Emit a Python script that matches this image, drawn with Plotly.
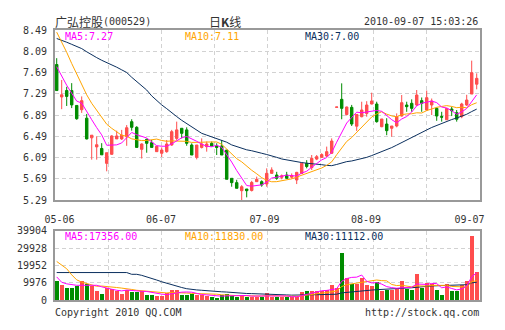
import plotly.graph_objects as go
import pandas as pd

# ---------------- data ----------------
opens = [7.84, 7.23, 7.35, 7.35, 7.07, 6.99, 6.83, 6.46, 6.29, 6.26,
         5.98, 6.15, 6.44, 6.44, 6.48, 6.764, 6.658, 6.244, 6.432, 6.37,
         6.20, 6.17, 6.20, 6.325, 6.45, 6.64, 6.61, 6.325, 6.093, 6.28,
         6.294, 6.357, 6.307, 6.307, 6.23, 5.698, 5.617, 5.465, 5.497, 5.47,
         5.635, 5.635, 5.591, 5.792, 5.76, 5.717, 5.76, 5.72, 5.667, 5.79,
         5.98, 5.90, 6.06, 6.093, 6.118, 6.17, 7.035, 7.185, 6.90, 7.034,
         6.68, 6.858, 6.92, 7.097, 7.097, 6.67, 6.72, 6.64, 6.683, 6.871,
         7.078, 7.11, 7.078, 7.16, 6.984, 7.078, 7.015, 6.86, 6.80, 7.003,
         6.934, 6.859, 7.078, 7.285, 7.47]
closes = [7.35, 7.27, 7.24, 7.08, 6.82, 7.16, 6.44, 6.51, 6.33, 6.14,
          6.18, 6.495, 6.495, 6.51, 6.65, 6.658, 6.28, 6.344, 6.357, 6.28,
          6.30, 6.23, 6.344, 6.576, 6.61, 6.545, 6.357, 6.137, 6.325, 6.344,
          6.344, 6.307, 6.28, 6.137, 5.68, 5.617, 5.51, 5.54, 5.465, 5.62,
          5.68, 5.573, 5.792, 5.855, 5.698, 5.745, 5.698, 5.75, 5.81, 5.98,
          5.92, 6.074, 6.105, 6.145, 6.20, 6.40, 7.04, 7.015, 7.04, 6.72,
          6.90, 6.984, 7.078, 7.153, 6.765, 6.815, 6.595, 6.683, 6.859, 7.122,
          7.047, 7.015, 7.266, 7.11, 7.216, 7.153, 6.871, 6.85, 7.015, 6.97,
          6.81, 7.097, 7.172, 7.687, 7.58]
highs = [7.96, 7.55, 7.42, 7.49, 7.07, 7.24, 6.91, 6.51, 6.49, 6.36,
         6.18, 6.51, 6.595, 6.61, 6.70, 6.81, 6.68, 6.357, 6.445, 6.42,
         6.30, 6.28, 6.42, 6.61, 6.765, 6.64, 6.658, 6.357, 6.325, 6.45,
         6.39, 6.39, 6.357, 6.42, 6.23, 5.698, 5.67, 5.57, 5.497, 5.65,
         5.73, 5.66, 5.886, 5.905, 5.82, 5.77, 5.82, 5.79, 5.82, 5.99,
         6.04, 6.137, 6.137, 6.17, 6.295, 6.45, 7.04, 7.486, 7.05, 7.08,
         6.90, 7.14, 7.15, 7.31, 7.14, 6.815, 6.83, 6.683, 6.92, 7.266,
         7.14, 7.185, 7.36, 7.22, 7.35, 7.20, 7.03, 6.95, 7.015, 7.047,
         6.984, 7.12, 7.27, 7.913, 7.674]
lows = [7.35, 7.00, 7.06, 7.02, 6.80, 6.93, 6.43, 6.05, 6.05, 6.14,
        5.83, 6.14, 6.44, 6.42, 6.31, 6.595, 6.28, 6.07, 6.18, 6.28,
        6.20, 6.10, 6.18, 6.31, 6.42, 6.45, 6.31, 6.137, 6.055, 6.26,
        6.20, 6.307, 6.137, 6.137, 5.68, 5.54, 5.51, 5.29, 5.34, 5.45,
        5.635, 5.54, 5.54, 5.78, 5.67, 5.68, 5.69, 5.69, 5.59, 5.78,
        5.886, 5.855, 6.04, 6.08, 6.10, 6.156, 7.035, 6.81, 6.88, 6.683,
        6.59, 6.846, 6.858, 7.09, 6.745, 6.66, 6.51, 6.482, 6.658, 6.86,
        6.95, 6.95, 7.06, 6.95, 6.97, 6.89, 6.78, 6.765, 6.80, 6.87,
        6.765, 6.83, 7.06, 7.285, 7.373]
volumes = [10900, 9000, 7200, 7200, 8000, 10900, 9500, 8300, 5600, 3700,
           6800, 6600, 5400, 3700, 6100, 5000, 4700, 5600, 3200, 3200,
           2250, 2600, 4300, 6200, 6200, 3200, 3200, 3700, 2800, 2800,
           2200, 1850, 1300, 2800, 3700, 2400, 1850, 3200, 1850, 1850,
           1850, 1850, 4200, 1860, 1900, 1860, 1900, 1860, 1860, 5000,
           5500, 5500, 5500, 5200, 5900, 8800, 7000, 27100, 12900, 9300,
           9500, 13100, 9000, 8200, 10300, 5200, 5800, 6200, 6400, 11400,
           6600, 6200, 15400, 6800, 9800, 9500, 5800, 3200, 9500, 5200,
           5400, 8600, 11000, 36900, 16100]

# moving-average values before a full window is available
ma5_lead = [7.80, 7.62, 7.45, 7.30]
ma10_lead = [8.45, 8.27, 8.07, 7.86, 7.67, 7.45, 7.27, 7.11, 6.98]
ma30_lead = [8.33, 8.30, 8.26, 8.22, 8.18, 8.14, 8.08, 8.02, 7.97, 7.92,
             7.88, 7.84, 7.79, 7.74, 7.69, 7.60, 7.52, 7.44, 7.36, 7.25,
             7.16, 7.08, 7.01, 6.93, 6.86, 6.79, 6.73, 6.66, 6.61]
vol_ma5_lead = [13300, 10200, 9300, 8800]
vol_ma10_lead = [22200, 20000, 18000, 14500, 11600, 10300, 9400, 8400, 7900]
vol_ma30_lead = [15800, 15800, 15800, 15800, 15800, 15900, 16000, 16000, 16000, 16000,
                 16000, 16000, 16000, 16000, 15800, 14800, 14800, 14200, 13400, 12500,
                 11500, 10500, 9600, 8800, 8200, 7200, 6500, 6000, 5800]

price_ticks = [5.29, 5.69, 6.09, 6.49, 6.89, 7.29, 7.69, 8.09, 8.49]
vol_ticks = [0, 9976, 19952, 29928, 39904]
date_labels = ["05-06", "06-07", "07-09", "08-09", "09-07"]

title_name = "广弘控股"
title_code = "(000529)"
title_mid = "日<b>K</b>线"
title_time = "2010-09-07 15:03:26"
price_legend = ["MA5:7.27", "MA10:7.11", "MA30:7.00"]
vol_legend = ["MA5:17356.00", "MA10:11830.00", "MA30:11112.00"]
footer_left = "Copyright 2010 QQ.COM"
footer_right = "http://stock.qq.com"

# ---------------- derived ----------------
n = len(closes)
idx = list(range(n))


def ma(values, w, lead):
    s = pd.Series(values, dtype=float).rolling(w).mean().tolist()
    return list(lead) + s[w - 1:]


ma5 = ma(closes, 5, ma5_lead)
ma10 = ma(closes, 10, ma10_lead)
ma30 = ma(closes, 30, ma30_lead)
vma5 = ma(volumes, 5, vol_ma5_lead)
vma10 = ma(volumes, 10, vol_ma10_lead)
vma30 = ma(volumes, 30, vol_ma30_lead)

RED = "#FF4D4D"
GREEN = "#008C00"
C5 = "#FF00FF"
C10 = "#FFA500"
C30 = "#0A2F5E"
GRID = "#D2D2D2"
FRAME = "#999999"
TXT = "#333333"
MONO = "DejaVu Sans Mono"
CJK = "Noto Sans CJK SC"

bar_colors = [RED if c >= o else GREEN for o, c in zip(opens, closes)]

W, H = 505, 330
L, R, T, B = 55, 25, 30, 30
PW, PH = W - L - R, H - T - B


def px(x):
    return (x - L) / PW


def py(y):
    return (H - B - y) / PH


x_lo, x_hi = -0.34, 84.66
span = x_hi - x_lo
grid_pos = [x_lo + span * k / 8 for k in range(1, 8)]
label_pos = [0.56, 20.86, 41.56, 61.86, 82.56]

fig = go.Figure()
fig.add_trace(go.Candlestick(
    x=idx, open=opens, high=highs, low=lows, close=closes,
    increasing=dict(line=dict(color=RED, width=1), fillcolor=RED),
    decreasing=dict(line=dict(color=GREEN, width=1), fillcolor=GREEN),
    whiskerwidth=0, xaxis="x", yaxis="y", showlegend=False, hoverinfo="skip"))
for vals, col in [(ma30, C30), (ma10, C10), (ma5, C5)]:
    fig.add_trace(go.Scatter(x=idx, y=vals, mode="lines", line=dict(color=col, width=1),
                             xaxis="x", yaxis="y", showlegend=False, hoverinfo="skip"))

fig.add_trace(go.Bar(x=idx, y=volumes, marker=dict(color=bar_colors, line=dict(width=0)),
                     width=0.78, xaxis="x2", yaxis="y2", showlegend=False, hoverinfo="skip"))
for vals, col in [(vma30, C30), (vma10, C10), (vma5, C5)]:
    fig.add_trace(go.Scatter(x=idx, y=vals, mode="lines", line=dict(color=col, width=1),
                             xaxis="x2", yaxis="y2", showlegend=False, hoverinfo="skip"))

minor_grid = dict(tickmode="array", tickvals=grid_pos, showgrid=True, gridcolor=GRID,
                  griddash="4px,3px", gridwidth=1, ticks="")
common_x = dict(range=[x_lo, x_hi], showline=True, mirror=True, linecolor=FRAME, linewidth=2,
                zeroline=False, showgrid=False, ticks="", automargin=False, fixedrange=True)

fig.update_layout(
    width=W, height=H,
    margin=dict(l=L, r=R, t=T, b=B, pad=0),
    paper_bgcolor="white", plot_bgcolor="white",
    font=dict(family=MONO, size=10, color=TXT),
    bargap=0,
    xaxis=dict(domain=[0, 1], anchor="y", tickmode="array", tickvals=label_pos,
               ticktext=date_labels, ticklabelstandoff=9,
               tickfont=dict(family=MONO, size=10, color=TXT),
               rangeslider=dict(visible=False), minor=minor_grid, **common_x),
    xaxis2=dict(domain=[0, 1], anchor="y2", matches="x", showticklabels=False,
                minor=minor_grid, **common_x),
    yaxis=dict(domain=[py(200), 1], anchor="x", range=[price_ticks[0], price_ticks[-1]],
               tickmode="array", tickvals=price_ticks,
               ticktext=["%.2f" % v for v in price_ticks],
               showgrid=True, gridcolor=GRID, griddash="4px,3px", gridwidth=1,
               showline=True, mirror=True, linecolor=FRAME, linewidth=2, zeroline=False,
               ticks="", ticklabelstandoff=4, automargin=False, fixedrange=True),
    yaxis2=dict(domain=[0, py(230.7)], anchor="x2", range=[vol_ticks[0], vol_ticks[-1]],
                tickmode="array", tickvals=vol_ticks, ticktext=[str(v) for v in vol_ticks],
                showgrid=True, gridcolor=GRID, griddash="4px,3px", gridwidth=1,
                showline=True, mirror=True, linecolor=FRAME, linewidth=2, zeroline=False,
                ticks="", ticklabelstandoff=4, automargin=False, fixedrange=True),
)


def note(text, x, y, xanchor="left", color=TXT, family=MONO, size=10):
    fig.add_annotation(text=text, x=px(x), y=py(y), xref="paper", yref="paper",
                       xanchor=xanchor, yanchor="middle", showarrow=False,
                       font=dict(family=family, size=size, color=color), borderpad=0)


note(title_name, 54, 21.5, family=CJK, size=12)
note(title_code, 102, 21.5)
note(title_mid, 225, 21.5, xanchor="center", family=CJK, size=12)
note(title_time, 479, 21.5, xanchor="right")

for text, x, col in zip(price_legend, [64, 184, 304], [C5, C10, C30]):
    note(text, x, 36.5, color=col)
for text, x, col in zip(vol_legend, [64, 184, 304], [C5, C10, C30]):
    note(text, x, 236.5, color=col)

note(footer_left, 54, 312)
note(footer_right, 480, 312, xanchor="right")

fig.write_html("out.html")
